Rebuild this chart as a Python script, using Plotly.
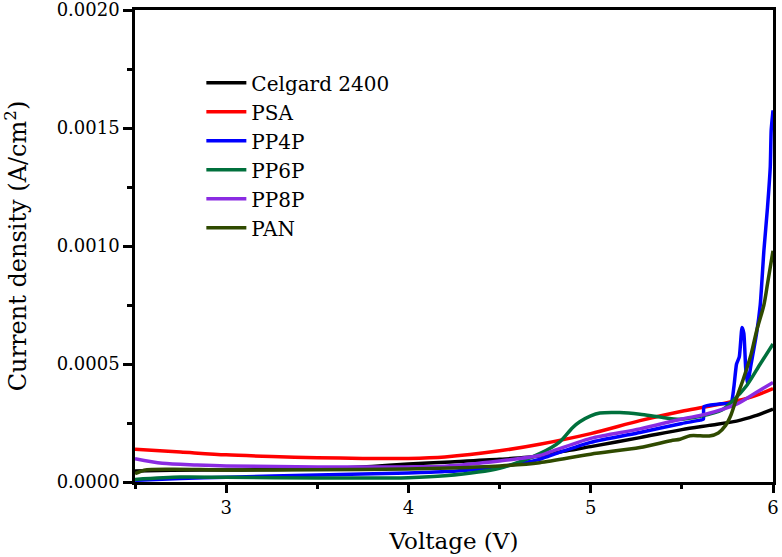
import plotly.graph_objects as go

# ---- data (Voltage in V, current density in A/cm^2) ----
celgard_v = [2.5, 2.7, 3.0, 3.5, 3.8, 4.0, 4.2, 4.5, 4.72, 4.85, 5.0, 5.27, 5.5, 5.65, 5.8, 5.9, 6.0]
celgard_j = [4.7e-5, 5.0e-5, 5.1e-5, 5.6e-5, 6.6e-5, 7.6e-5, 8.4e-5, 9.6e-5, 1.10e-4, 1.30e-4, 1.50e-4,
             1.88e-4, 2.22e-4, 2.40e-4, 2.58e-4, 2.80e-4, 3.09e-4]

psa_v = [2.5, 2.75, 3.0, 3.25, 3.5, 3.75, 4.0, 4.2, 4.5, 4.72, 5.0, 5.27, 5.5, 5.62, 5.8, 5.9, 6.0]
psa_j = [1.39e-4, 1.27e-4, 1.15e-4, 1.08e-4, 1.03e-4, 1.00e-4, 1.00e-4, 1.06e-4, 1.32e-4, 1.60e-4, 2.05e-4,
         2.60e-4, 3.00e-4, 3.17e-4, 3.44e-4, 3.65e-4, 3.96e-4]

pp4p_v = [2.5, 2.75, 3.0, 3.5, 4.0, 4.2, 4.5, 4.72, 4.77, 5.0, 5.27, 5.5, 5.6, 5.618, 5.622, 5.7, 5.77,
          5.785, 5.80, 5.815, 5.83, 5.84, 5.85, 5.86, 5.88, 5.91, 5.93, 5.95, 5.97, 5.985, 5.99, 6.0]
pp4p_j = [7e-6, 1.5e-5, 2.0e-5, 3.0e-5, 3.8e-5, 4.4e-5, 6.4e-5, 9.6e-5, 1.10e-4, 1.68e-4, 2.10e-4, 2.48e-4,
          2.62e-4, 2.66e-4, 3.20e-4, 3.30e-4, 3.37e-4, 4.0e-4, 5.0e-4, 5.3e-4, 6.55e-4, 6.3e-4, 4.85e-4,
          4.15e-4, 5.0e-4, 6.3e-4, 7.5e-4, 9.8e-4, 1.165e-3, 1.335e-3, 1.49e-3, 1.575e-3]

pp6p_v = [2.5, 2.75, 3.0, 3.5, 4.0, 4.2, 4.5, 4.72, 4.83, 4.9, 4.94, 5.0, 5.05, 5.16, 5.27, 5.38, 5.49,
          5.6, 5.72, 5.78, 5.855, 5.93, 6.0]
pp6p_j = [1.1e-5, 2.1e-5, 2.0e-5, 1.7e-5, 1.8e-5, 2.6e-5, 5.8e-5, 1.20e-4, 1.70e-4, 2.30e-4, 2.55e-4,
          2.80e-4, 2.92e-4, 2.94e-4, 2.87e-4, 2.75e-4, 2.66e-4, 2.78e-4, 3.05e-4, 3.44e-4, 4.08e-4,
          5.0e-4, 5.85e-4]

pp8p_v = [2.5, 2.65, 2.84, 3.0, 3.5, 4.0, 4.2, 4.5, 4.72, 4.77, 5.0, 5.27, 5.5, 5.63, 5.8, 5.91, 6.0]
pp8p_j = [9.9e-5, 7.9e-5, 7.2e-5, 6.8e-5, 6.4e-5, 6.4e-5, 6.7e-5, 8.9e-5, 1.12e-4, 1.25e-4, 1.85e-4,
          2.25e-4, 2.67e-4, 2.87e-4, 3.30e-4, 3.80e-4, 4.22e-4]

pan_v = [2.5, 2.55, 2.7, 3.0, 3.5, 4.0, 4.17, 4.5, 4.72, 5.0, 5.27, 5.44, 5.49, 5.545, 5.6, 5.65, 5.7,
         5.74, 5.77, 5.80, 5.84, 5.88, 5.91, 5.95, 5.97, 6.0]
pan_j = [3.5e-5, 5.0e-5, 5.4e-5, 5.1e-5, 5.2e-5, 5.5e-5, 5.8e-5, 6.8e-5, 8.2e-5, 1.18e-4, 1.46e-4,
         1.75e-4, 1.81e-4, 1.96e-4, 1.96e-4, 1.95e-4, 2.08e-4, 2.40e-4, 2.85e-4, 3.55e-4, 4.43e-4,
         5.42e-4, 6.4e-4, 7.5e-4, 8.4e-4, 9.8e-4]

series_names = ["Celgard 2400", "PSA", "PP4P", "PP6P", "PP8P", "PAN"]
series_colors = ["#000000", "#ff0000", "#0000ff", "#00703c", "#8a2be2", "#2f4a00"]
series_data = [(celgard_v, celgard_j), (psa_v, psa_j), (pp4p_v, pp4p_j),
               (pp6p_v, pp6p_j), (pp8p_v, pp8p_j), (pan_v, pan_j)]

FONT = "DejaVu Serif, serif"

fig = go.Figure()
for name, color, (xv, yv) in zip(series_names, series_colors, series_data):
    smooth = 0.5 if name == "PP4P" else 0.8
    fig.add_trace(go.Scatter(x=xv, y=yv, name=name, mode="lines",
                             line=dict(color=color, width=3.5, shape="spline", smoothing=smooth)))

fig.update_layout(
    width=782, height=557,
    margin=dict(l=135, r=9, t=10, b=75, autoexpand=False),
    plot_bgcolor="white", paper_bgcolor="white",
    font=dict(family=FONT, color="black", size=18),
    showlegend=True,
    legend=dict(x=0.104, y=0.887, xanchor="left", yanchor="top",
                font=dict(family=FONT, size=20, color="black"),
                bgcolor="rgba(0,0,0,0)", itemwidth=40, tracegroupgap=0),
    xaxis=dict(range=[2.5, 6], dtick=1, tick0=3, showgrid=False, zeroline=False, automargin=False,
               showline=True, linecolor="black", linewidth=2.5, mirror=True,
               ticks="outside", ticklen=8, tickwidth=2.5, tickcolor="black",
               ticklabeloverflow="allow",
               minor=dict(dtick=0.5, ticks="outside", ticklen=4, tickwidth=2.5, tickcolor="black"),
               tickfont=dict(family=FONT, size=18, color="black"),
               title=dict(text="Voltage (V)", font=dict(family=FONT, size=23), standoff=16)),
    yaxis=dict(range=[0, 0.002], dtick=0.0005, showgrid=False, zeroline=False, automargin=False,
               showline=True, linecolor="black", linewidth=2.5, mirror=True,
               ticks="outside", ticklen=9, tickwidth=2.5, tickcolor="black", tickformat=".4f",
               ticklabeloverflow="allow",
               minor=dict(dtick=0.00025, ticks="outside", ticklen=5, tickwidth=2.5, tickcolor="black"),
               tickfont=dict(family=FONT, size=18, color="black"),
               title=dict(text="Current density (A/cm<sup>2</sup>)", font=dict(family=FONT, size=24),
                          standoff=30)),
)

fig.write_html("out.html", config={"displayModeBar": False},
               post_script="document.body.style.margin='0';document.body.style.padding='0';")
